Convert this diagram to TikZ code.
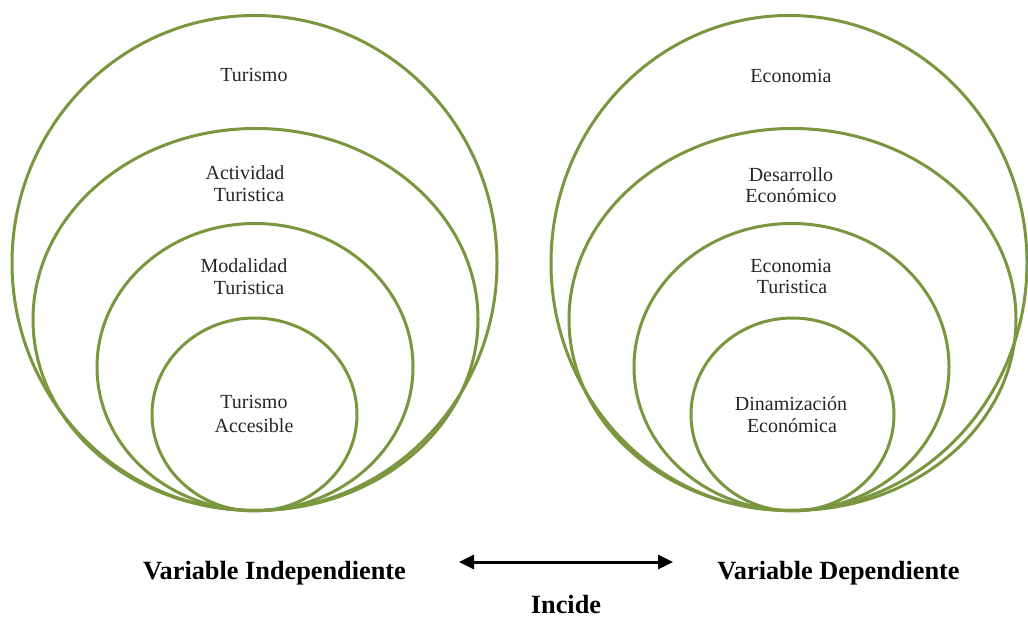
\documentclass[tikz,border=0pt]{standalone}
\usepackage{fontspec}
\setmainfont{Liberation Serif}
\usetikzlibrary{arrows.meta}
\definecolor{ringgreen}{RGB}{122,150,62}
\tikzset{
  ring/.style={draw=ringgreen, line width=3pt},
  lbl/.style={anchor=base, inner sep=0pt, font=\fontsize{20}{22}\selectfont, text=black!85},
  var/.style={anchor=base, inner sep=0pt, font=\fontsize{26.3}{30}\selectfont\bfseries},
  link/.style={line width=3pt, {Triangle[length=15pt,width=14pt]}-{Triangle[length=15pt,width=14pt]}}
}
\begin{document}
\begin{tikzpicture}[x=1pt,y=-1pt]
\useasboundingbox (0,0) rectangle (1028,617);
\fill[white] (0,0) rectangle (1028,617);
% left rings
\draw[ring] (254.5,263) ellipse [x radius=242.5, y radius=247.5];
\draw[ring] (255.5,319.5) ellipse [x radius=222.5, y radius=191];
\draw[ring] (255,367) ellipse [x radius=158, y radius=143.5];
\draw[ring] (254.5,414.5) ellipse [x radius=102.5, y radius=96.5];
% right rings
\draw[ring] (789,263) ellipse [x radius=238, y radius=247.5];
\draw[ring] (792.5,319.5) ellipse [x radius=223.5, y radius=191];
\draw[ring] (791.5,367) ellipse [x radius=157.5, y radius=143.5];
\draw[ring] (792.5,414.5) ellipse [x radius=101.5, y radius=96.5];
% left labels
\node[lbl] (tur) at (254,82) {Turismo};
\node[lbl] (act1) at (245,180) {Actividad};
\node[lbl] (act2) at (249,202) {Turistica};
\node[lbl] (mod1) at (244,273) {Modalidad};
\node[lbl] (mod2) at (249,295) {Turistica};
\node[lbl] (acc1) at (254,409) {Turismo};
\node[lbl] (acc2) at (254,432) {Accesible};
% right labels
\node[lbl] (eco) at (791,83) {Economia};
\node[lbl] (des1) at (791,182) {Desarrollo};
\node[lbl] (des2) at (791,203) {Económico};
\node[lbl] (et1) at (791,273) {Economia};
\node[lbl] (et2) at (792,294) {Turistica};
\node[lbl] (din1) at (791,410) {Dinamización};
\node[lbl] (din2) at (792,432) {Económica};
% bottom
\node[var] (vi) at (274.5,579) {Variable Independiente};
\node[var] (vd) at (838.5,579) {Variable Dependiente};
\node[var] (inc) at (566,613) {Incide};
\coordinate (arrL) at (459,562);
\coordinate (arrR) at (673,562);
\draw[link] (arrL) -- (arrR);
\end{tikzpicture}
\end{document}
